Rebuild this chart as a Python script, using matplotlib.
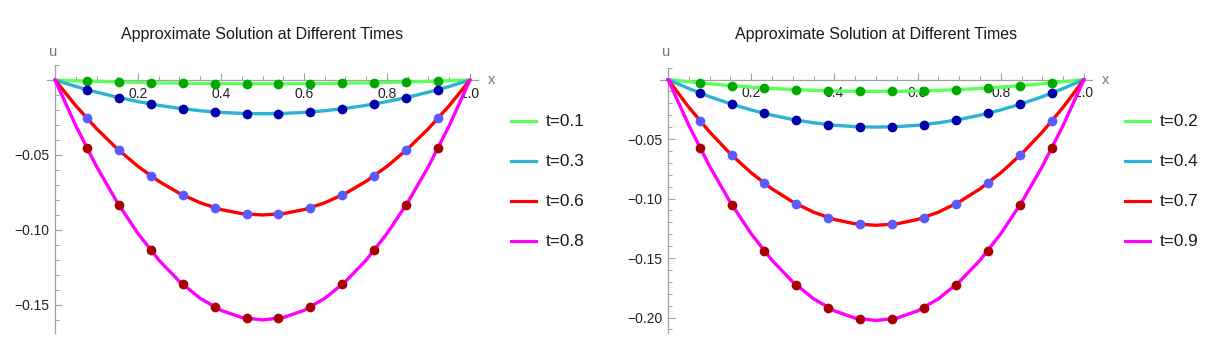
import matplotlib
matplotlib.use('Agg')
import matplotlib.pyplot as plt
from matplotlib.lines import Line2D
from matplotlib.ticker import FixedLocator, FuncFormatter

plt.rcParams['font.family'] = ['Liberation Sans', 'DejaVu Sans']

# ---------------- data ----------------
x_curve = [0.00, 0.05, 0.10, 0.15, 0.20, 0.25, 0.30, 0.35, 0.40, 0.45, 0.50,
           0.55, 0.60, 0.65, 0.70, 0.75, 0.80, 0.85, 0.90, 0.95, 1.00]
x_dots = [0.077, 0.154, 0.231, 0.308, 0.385, 0.462,
          0.538, 0.615, 0.692, 0.769, 0.846, 0.923]

# left panel
times_left = ["t=0.1", "t=0.3", "t=0.6", "t=0.8"]
curve_t01 = [0, -0.0005, -0.0009, -0.0013, -0.0016, -0.0019, -0.0021, -0.0023, -0.0024, -0.0025, -0.0025,
             -0.0025, -0.0024, -0.0023, -0.0021, -0.0019, -0.0016, -0.0013, -0.0009, -0.0005, 0]
curve_t03 = [0, -0.0043, -0.0081, -0.0115, -0.0144, -0.0169, -0.0189, -0.0205, -0.0216, -0.0223, -0.0225,
             -0.0223, -0.0216, -0.0205, -0.0189, -0.0169, -0.0144, -0.0115, -0.0081, -0.0043, 0]
curve_t06 = [0, -0.0171, -0.0324, -0.0459, -0.0576, -0.0675, -0.0756, -0.0819, -0.0864, -0.0891, -0.0900,
             -0.0891, -0.0864, -0.0819, -0.0756, -0.0675, -0.0576, -0.0459, -0.0324, -0.0171, 0]
curve_t08 = [0, -0.0304, -0.0576, -0.0816, -0.1024, -0.1200, -0.1344, -0.1456, -0.1536, -0.1584, -0.1600,
             -0.1584, -0.1536, -0.1456, -0.1344, -0.1200, -0.1024, -0.0816, -0.0576, -0.0304, 0]
dots_t01 = [-0.0007, -0.0013, -0.0018, -0.0021, -0.0024, -0.0025,
            -0.0025, -0.0024, -0.0021, -0.0018, -0.0013, -0.0007]
dots_t03 = [-0.0064, -0.0117, -0.0160, -0.0192, -0.0213, -0.0224,
            -0.0224, -0.0213, -0.0192, -0.0160, -0.0117, -0.0064]
dots_t06 = [-0.0256, -0.0469, -0.0639, -0.0767, -0.0852, -0.0895,
            -0.0895, -0.0852, -0.0767, -0.0639, -0.0469, -0.0256]
dots_t08 = [-0.0454, -0.0833, -0.1136, -0.1363, -0.1515, -0.1590,
            -0.1590, -0.1515, -0.1363, -0.1136, -0.0833, -0.0454]

# right panel
times_right = ["t=0.2", "t=0.4", "t=0.7", "t=0.9"]
curve_t02 = [0, -0.0019, -0.0036, -0.0051, -0.0064, -0.0075, -0.0084, -0.0091, -0.0096, -0.0099, -0.0100,
             -0.0099, -0.0096, -0.0091, -0.0084, -0.0075, -0.0064, -0.0051, -0.0036, -0.0019, 0]
curve_t04 = [0, -0.0076, -0.0144, -0.0204, -0.0256, -0.0300, -0.0336, -0.0364, -0.0384, -0.0396, -0.0400,
             -0.0396, -0.0384, -0.0364, -0.0336, -0.0300, -0.0256, -0.0204, -0.0144, -0.0076, 0]
curve_t07 = [0, -0.0233, -0.0441, -0.0625, -0.0784, -0.0919, -0.1029, -0.1115, -0.1176, -0.1213, -0.1225,
             -0.1213, -0.1176, -0.1115, -0.1029, -0.0919, -0.0784, -0.0625, -0.0441, -0.0233, 0]
curve_t09 = [0, -0.0385, -0.0729, -0.1033, -0.1296, -0.1519, -0.1701, -0.1843, -0.1944, -0.2005, -0.2025,
             -0.2005, -0.1944, -0.1843, -0.1701, -0.1519, -0.1296, -0.1033, -0.0729, -0.0385, 0]
dots_t02 = [-0.0028, -0.0052, -0.0071, -0.0085, -0.0095, -0.0099,
            -0.0099, -0.0095, -0.0085, -0.0071, -0.0052, -0.0028]
dots_t04 = [-0.0114, -0.0208, -0.0284, -0.0341, -0.0379, -0.0398,
            -0.0398, -0.0379, -0.0341, -0.0284, -0.0208, -0.0114]
dots_t07 = [-0.0348, -0.0638, -0.0870, -0.1044, -0.1160, -0.1218,
            -0.1218, -0.1160, -0.1044, -0.0870, -0.0638, -0.0348]
dots_t09 = [-0.0575, -0.1054, -0.1438, -0.1725, -0.1917, -0.2013,
            -0.2013, -0.1917, -0.1725, -0.1438, -0.1054, -0.0575]

x_major = [0.2, 0.4, 0.6, 0.8, 1.0]
x_minor = [0.05, 0.1, 0.15, 0.25, 0.3, 0.35, 0.45, 0.5, 0.55, 0.65, 0.7, 0.75, 0.85, 0.9, 0.95]
y_major_left = [-0.05, -0.10, -0.15]
y_minor_left = [-0.16, -0.14, -0.13, -0.12, -0.11, -0.09, -0.08, -0.07, -0.06, -0.04, -0.03, -0.02, -0.01, 0.01]
y_major_right = [-0.05, -0.10, -0.15, -0.20]
y_minor_right = [-0.21, -0.19, -0.18, -0.17, -0.16, -0.14, -0.13, -0.12, -0.11, -0.09, -0.08, -0.07,
                 -0.06, -0.04, -0.03, -0.02, -0.01, 0.01]

title_text = "Approximate Solution at Different Times"

# ---------------- styles ----------------
line_colors = ['#5cff5c', '#2bb3d4', '#ff0000', '#ff00ff']
dot_colors = ['#00a800', '#0000a8', '#5a5aff', '#a80000']
axis_color = '#a0a0a0'
W, H = 1213, 349

fig = plt.figure(figsize=(W / 100, H / 100), dpi=100)


def px_rect(left, top, width, height):
    return [left / W, 1 - (top + height) / H, width / W, height / H]


def fmt(v, pos):
    return ("%.2f" % v).replace('-', '\u2212')


def fmtx(v, pos):
    return "%.1f" % v


def draw_panel(rect, ylim, curves, dots, y_major, y_minor, title_x, ulab_y,
               labels, leg_x):
    ax = fig.add_axes(rect)
    ax.set_xlim(-0.02, 1.02)
    ax.set_ylim(*ylim)
    for s in ['top', 'right']:
        ax.spines[s].set_visible(False)
    ax.spines['left'].set_position(('data', 0))
    ax.spines['bottom'].set_position(('data', 0))
    for s in ['left', 'bottom']:
        ax.spines[s].set_color(axis_color)
        ax.spines[s].set_linewidth(0.9)
    ax.xaxis.set_major_locator(FixedLocator(x_major))
    ax.xaxis.set_minor_locator(FixedLocator(x_minor))
    ax.yaxis.set_major_locator(FixedLocator(y_major))
    ax.yaxis.set_minor_locator(FixedLocator(y_minor))
    ax.xaxis.set_major_formatter(FuncFormatter(fmtx))
    ax.yaxis.set_major_formatter(FuncFormatter(fmt))
    ax.tick_params(axis='both', which='major', direction='in', length=5,
                   width=0.8, color=axis_color, labelsize=10, labelcolor='#222222')
    ax.tick_params(axis='both', which='minor', direction='in', length=3,
                   width=0.7, color=axis_color)
    ax.tick_params(axis='x', which='major', pad=5)
    ax.tick_params(axis='y', which='major', pad=4)
    ax.patch.set_alpha(0)

    for c, col in zip(curves, line_colors):
        ax.plot(x_curve, c, color=col, lw=2.4, solid_capstyle='round',
                clip_on=False, zorder=3)
    for d, col in zip(dots, dot_colors):
        ax.plot(x_dots, d, 'o', color=col, ms=7.0, mec='none',
                clip_on=False, zorder=4)

    ax.text(1.043, 0, 'x', ha='left', va='center', fontsize=10.5,
            color='#777777')
    ax.text(-0.005, ulab_y, 'u', ha='center', va='center', fontsize=10.5,
            color='#777777')

    fig.text(title_x / W, 1 - 34 / H, title_text, ha='center', va='center',
             fontsize=11.5, color='#1a1a1a')

    for i, (lab, col) in enumerate(zip(labels, line_colors)):
        yy = 1 - (121 + 40 * i) / H
        fig.add_artist(Line2D([leg_x / W, (leg_x + 25) / W], [yy, yy],
                              color=col, lw=2.3, transform=fig.transFigure))
        fig.text((leg_x + 35) / W, yy, lab, ha='left', va='center',
                 fontsize=12.4, color='#1a1a1a')
    return ax


draw_panel(px_rect(46.7, 65, 431.6, 268), (-0.1687, 0.010),
           [curve_t01, curve_t03, curve_t06, curve_t08],
           [dots_t01, dots_t03, dots_t06, dots_t08],
           y_major_left, y_minor_left, 262, 0.0187, times_left, 511)

draw_panel(px_rect(659.7, 67.6, 432.6, 265.4), (-0.213, 0.010),
           [curve_t02, curve_t04, curve_t07, curve_t09],
           [dots_t02, dots_t04, dots_t07, dots_t09],
           y_major_right, y_minor_right, 876, 0.023, times_right, 1125)

fig.savefig('out.png', dpi=100)
